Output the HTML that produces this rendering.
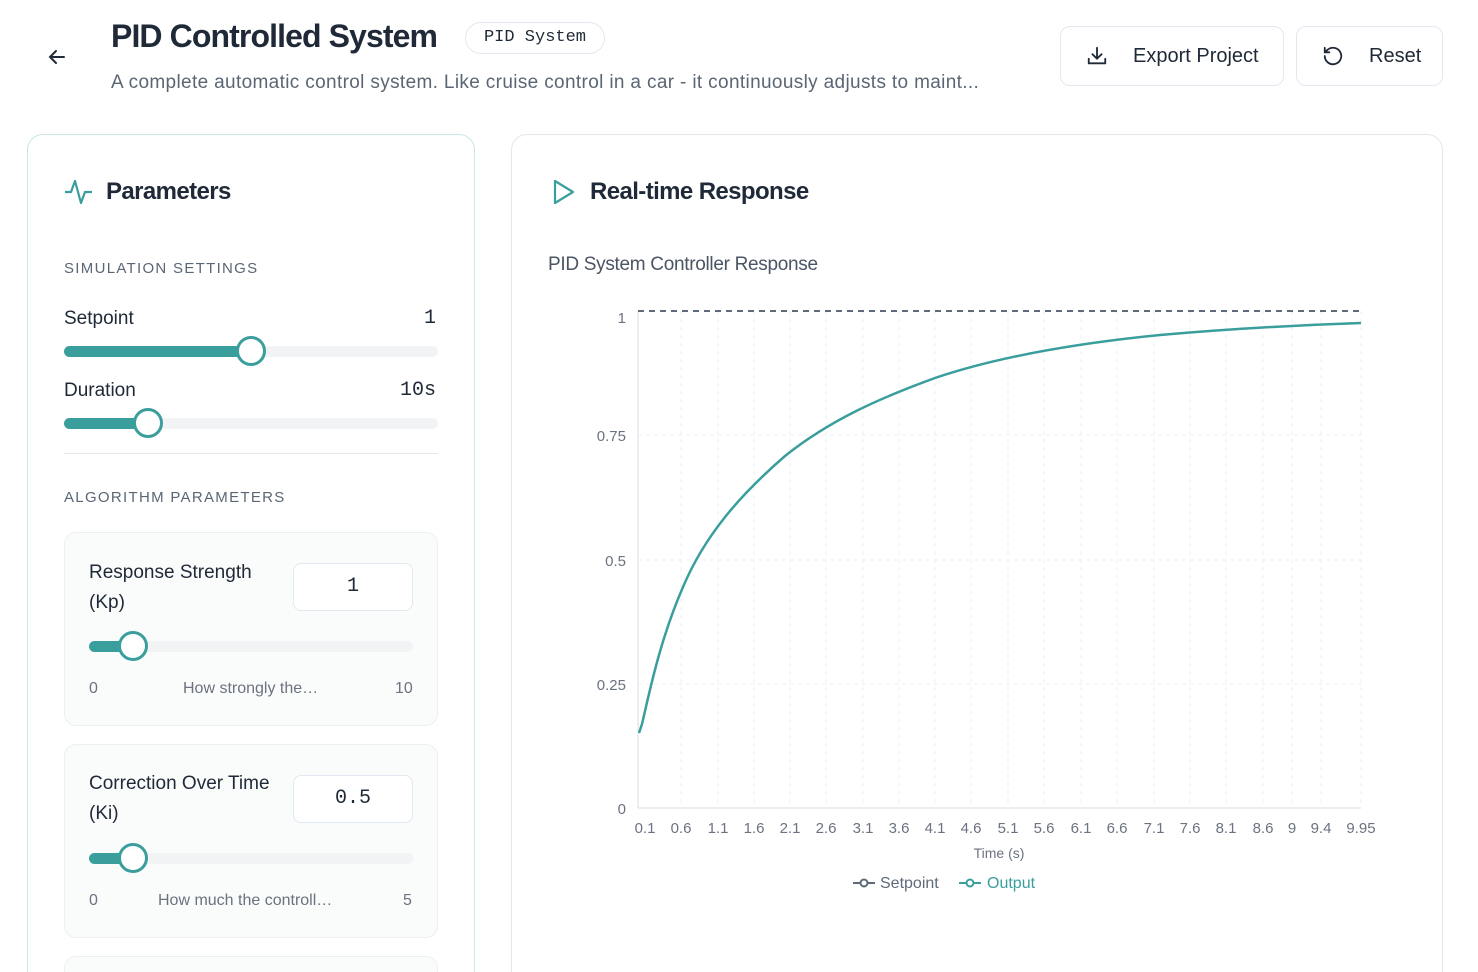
<!DOCTYPE html>
<html><head><meta charset="utf-8"><style>
*{box-sizing:border-box;margin:0;padding:0}
html,body{width:1478px;height:972px;overflow:hidden}
body{background:#fff;font-family:"Liberation Sans",sans-serif;color:#1f2937;position:relative}
#w{position:absolute;left:0;top:0;width:1478px;height:972px;overflow:hidden}
.a{position:absolute;white-space:nowrap}
.mono{font-family:"Liberation Mono",monospace}
.card{position:absolute;border:1px solid #e5e7eb;border-radius:16px;background:#fff}
.btn{position:absolute;border:1px solid #e2e8f0;border-radius:10px;background:#fff}
.track{position:absolute;height:11px;border-radius:6px;background:#f1f3f5}
.fill{position:absolute;left:0;top:0;height:11px;border-radius:6px;background:#3a9e9c}
.knob{position:absolute;width:30px;height:30px;border-radius:50%;border:3px solid #3a9e9c;background:#fff;top:-10px}
.sec{font-size:15px;letter-spacing:1.3px;color:#5b6675}
.lbl{font-size:19px;color:#1f2937}
.sub{position:absolute;left:64px;width:374px;border:1px solid #edf0f2;border-radius:12px;background:#fafbfb}
.inp{position:absolute;width:120px;height:48px;border:1px solid #e2e8f0;border-radius:8px;background:#fff;font-size:20px;text-align:center;line-height:46px}
.sm{font-size:16px;color:#6b7280}
</style></head><body><div id="w">
<svg class="a" style="left:45px;top:45px" width="24" height="24" viewBox="0 0 24 24" fill="none" stroke="#1f2937" stroke-width="2" stroke-linecap="round"><path d="M19 12H5M11 6l-6 6 6 6"/></svg>
<div class="a" style="left:111px;top:18px;font-size:32px;font-weight:bold;letter-spacing:-0.9px">PID Controlled System</div>
<div class="a mono" style="left:465px;top:22px;width:140px;height:32px;border:1px solid #e2e8f0;border-radius:16px;font-size:17px;line-height:30px;text-align:center">PID System</div>
<div class="a" style="left:111px;top:72px;font-size:19px;color:#5b6675;letter-spacing:0.35px">A complete automatic control system. Like cruise control in a car - it continuously adjusts to maint...</div>
<div class="btn" style="left:1060px;top:26px;width:224px;height:60px"></div>
<svg class="a" style="left:1086px;top:45px" width="22" height="22" viewBox="0 0 24 24" fill="none" stroke="#1f2937" stroke-width="2" stroke-linecap="round" stroke-linejoin="round"><path d="M3 15v5h18v-5M12 3v12M7 10l5 5 5-5"/></svg>
<div class="a" style="left:1133px;top:45px;font-size:20px">Export Project</div>
<div class="btn" style="left:1296px;top:26px;width:147px;height:60px"></div>
<svg class="a" style="left:1322px;top:45px" width="22" height="22" viewBox="0 0 24 24" fill="none" stroke="#1f2937" stroke-width="2" stroke-linecap="round" stroke-linejoin="round"><path d="M3 12a9 9 0 1 0 3-6.7L3 8M3 3v5h5"/></svg>
<div class="a" style="left:1369px;top:45px;font-size:20px">Reset</div>

<div class="card" style="left:27px;top:134px;width:448px;height:860px;border-color:#c9e8e6"></div>
<svg class="a" style="left:64px;top:177px" width="30" height="30" viewBox="0 0 30 30" fill="none" stroke="#3a9e9c" stroke-width="2.2" stroke-linejoin="round"><path d="M1 15h6l4-11 6 22 4-11h7"/></svg>
<div class="a" style="left:106px;top:178px;font-size:24px;font-weight:bold;letter-spacing:-0.6px">Parameters</div>
<div class="a sec" style="left:64px;top:260px">SIMULATION SETTINGS</div>
<div class="a lbl" style="left:64px;top:308px">Setpoint</div>
<div class="a mono" style="left:424px;top:307px;font-size:20px">1</div>
<div class="track" style="left:64px;top:346px;width:374px"><div class="fill" style="width:187px"></div><div class="knob" style="left:172px"></div></div>
<div class="a lbl" style="left:64px;top:380px">Duration</div>
<div class="a mono" style="left:400px;top:379px;font-size:20px">10s</div>
<div class="track" style="left:64px;top:418px;width:374px"><div class="fill" style="width:84px"></div><div class="knob" style="left:69px"></div></div>
<div class="a" style="left:64px;top:453px;width:374px;height:1px;background:#e5e7eb"></div>
<div class="a sec" style="left:64px;top:489px">ALGORITHM PARAMETERS</div>

<div class="sub" style="top:532px;height:194px"></div>
<div class="a lbl" style="left:89px;top:558px;line-height:30px">Response Strength<br>(Kp)</div>
<div class="inp a mono" style="left:293px;top:563px">1</div>
<div class="track" style="left:89px;top:641px;width:324px"><div class="fill" style="width:44px"></div><div class="knob" style="left:29px"></div></div>
<div class="a sm" style="left:89px;top:680px">0</div>
<div class="a sm" style="left:183px;top:680px">How strongly the…</div>
<div class="a sm" style="left:395px;top:680px">10</div>

<div class="sub" style="top:744px;height:194px"></div>
<div class="a lbl" style="left:89px;top:769px;line-height:30px">Correction Over Time<br>(Ki)</div>
<div class="inp a mono" style="left:293px;top:775px">0.5</div>
<div class="track" style="left:89px;top:853px;width:324px"><div class="fill" style="width:44px"></div><div class="knob" style="left:29px"></div></div>
<div class="a sm" style="left:89px;top:892px">0</div>
<div class="a sm" style="left:158px;top:892px">How much the controll…</div>
<div class="a sm" style="left:403px;top:892px">5</div>
<div class="sub" style="top:956px;height:60px"></div>

<div class="card" style="left:511px;top:134px;width:932px;height:860px"></div>
<svg class="a" style="left:552px;top:178px" width="24" height="28" viewBox="0 0 24 28" fill="none" stroke="#3a9e9c" stroke-width="2.2" stroke-linejoin="round"><path d="M3 3l18 11L3 25z"/></svg>
<div class="a" style="left:590px;top:178px;font-size:24px;font-weight:bold;letter-spacing:-0.6px">Real-time Response</div>
<div class="a" style="left:548px;top:254px;font-size:19px;color:#4b5563;letter-spacing:-0.3px">PID System Controller Response</div>

<svg class="a" style="left:0;top:0" width="1478" height="972" font-family="Liberation Sans, sans-serif" font-size="14" fill="#6b7280">
<g stroke="#eceff2" stroke-dasharray="4 4" stroke-width="1">
<line x1="638" y1="435" x2="1361" y2="435"/><line x1="638" y1="560" x2="1361" y2="560"/><line x1="638" y1="684" x2="1361" y2="684"/>
<line x1="681" y1="311" x2="681" y2="807"/><line x1="718" y1="311" x2="718" y2="807"/><line x1="754" y1="311" x2="754" y2="807"/><line x1="790" y1="311" x2="790" y2="807"/><line x1="826" y1="311" x2="826" y2="807"/><line x1="863" y1="311" x2="863" y2="807"/><line x1="899" y1="311" x2="899" y2="807"/><line x1="935" y1="311" x2="935" y2="807"/><line x1="971" y1="311" x2="971" y2="807"/><line x1="1008" y1="311" x2="1008" y2="807"/><line x1="1044" y1="311" x2="1044" y2="807"/><line x1="1081" y1="311" x2="1081" y2="807"/><line x1="1117" y1="311" x2="1117" y2="807"/><line x1="1154" y1="311" x2="1154" y2="807"/><line x1="1190" y1="311" x2="1190" y2="807"/><line x1="1226" y1="311" x2="1226" y2="807"/><line x1="1263" y1="311" x2="1263" y2="807"/><line x1="1292" y1="311" x2="1292" y2="807"/><line x1="1321" y1="311" x2="1321" y2="807"/><line x1="1361" y1="311" x2="1361" y2="807"/>
</g>
<line x1="638" y1="311" x2="638" y2="808" stroke="#d9dee4"/>
<line x1="638" y1="808" x2="1361" y2="808" stroke="#d9dee4"/>
<line x1="638" y1="311" x2="1361" y2="311" stroke="#5f6b7a" stroke-width="2" stroke-dasharray="6 5"/>
<path fill="none" stroke="#3a9e9c" stroke-width="2.5" d="M639,733 L642,724 C650,690 660,640 683,587 C705,535 740,495 785,456 C830,420 880,398 935,378 C1000,356 1080,343 1160,335 C1240,328 1300,325 1361,323"/>
<g text-anchor="end" font-size="15"><text x="626" y="323">1</text><text x="626" y="441">0.75</text><text x="626" y="566">0.5</text><text x="626" y="690">0.25</text><text x="626" y="814">0</text></g>
<g text-anchor="middle" font-size="15"><text x="645" y="833">0.1</text><text x="681" y="833">0.6</text><text x="718" y="833">1.1</text><text x="754" y="833">1.6</text><text x="790" y="833">2.1</text><text x="826" y="833">2.6</text><text x="863" y="833">3.1</text><text x="899" y="833">3.6</text><text x="935" y="833">4.1</text><text x="971" y="833">4.6</text><text x="1008" y="833">5.1</text><text x="1044" y="833">5.6</text><text x="1081" y="833">6.1</text><text x="1117" y="833">6.6</text><text x="1154" y="833">7.1</text><text x="1190" y="833">7.6</text><text x="1226" y="833">8.1</text><text x="1263" y="833">8.6</text><text x="1292" y="833">9</text><text x="1321" y="833">9.4</text><text x="1361" y="833">9.95</text>
<text x="999" y="858" font-size="14">Time (s)</text></g>
<g stroke-width="2" fill="#fff"><line x1="853" y1="883" x2="875" y2="883" stroke="#5f6b7a"/><circle cx="864" cy="883" r="3.5" stroke="#5f6b7a"/>
<line x1="959" y1="883" x2="981" y2="883" stroke="#3a9e9c"/><circle cx="970" cy="883" r="3.5" stroke="#3a9e9c"/></g>
<text x="880" y="888" font-size="16" fill="#5f6b7a">Setpoint</text>
<text x="987" y="888" font-size="16" fill="#3a9e9c">Output</text>
</svg>
</div></body></html>
